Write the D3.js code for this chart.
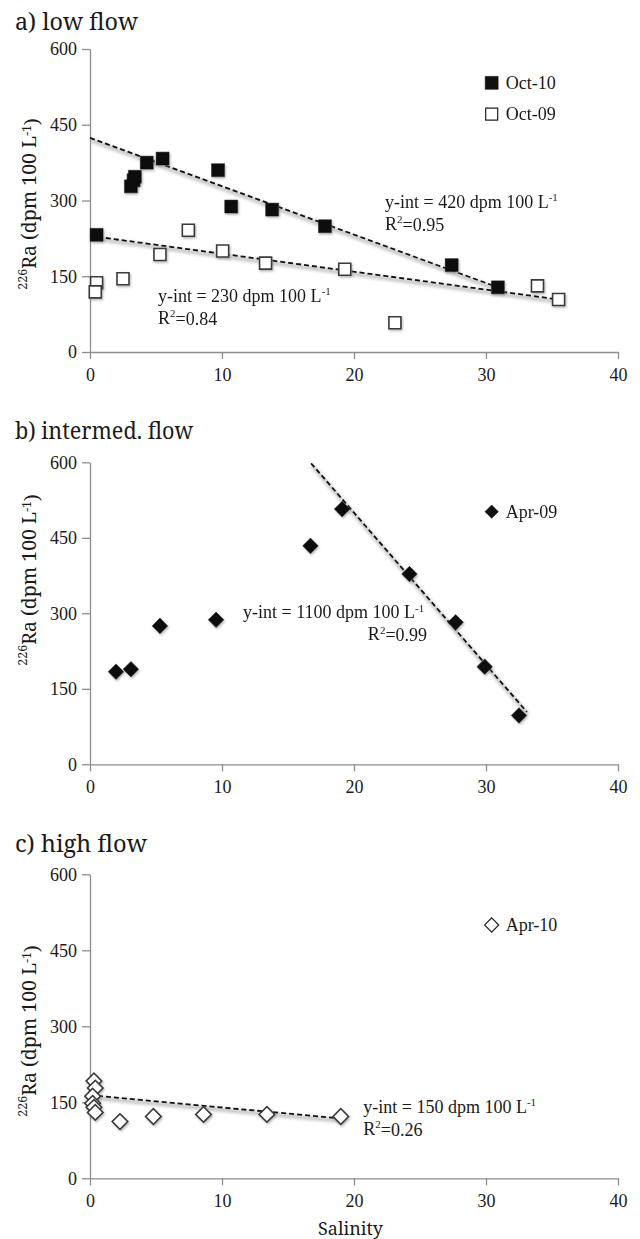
<!DOCTYPE html>
<html><head><meta charset="utf-8">
<script src="https://cdn.jsdelivr.net/npm/d3@7"></script>
<style>
html,body{margin:0;padding:0;background:#fff;}
</style></head>
<body><svg id="chart" width="640" height="1239"></svg>
<script>
// ---------- data ----------
const xTicks = [0, 10, 20, 30, 40];
const yTicks = [0, 150, 300, 450, 600];
const panelTitles = ["a) low flow", "b) intermed. flow", "c) high flow"];

// a) low flow
const salOct10 = [0.5, 3.1, 3.3, 3.4, 4.3, 5.5, 9.7, 10.7, 13.8, 17.8, 27.4, 30.9];
const raOct10  = [232, 328, 340, 347, 375, 383, 360, 288, 282, 249, 172, 128];
const salOct09 = [0.5, 0.4, 2.5, 5.3, 7.45, 10.05, 13.3, 19.3, 23.1, 33.9, 35.5];
const raOct09  = [137, 119, 145, 193, 241, 200, 176, 164, 58, 131, 104];
const trendOct10Sal = [0, 30.9], trendOct10Ra = [424, 128];
const trendOct09Sal = [0, 35.5], trendOct09Ra = [230, 104];

// b) intermediate flow
const salApr09 = [1.97, 3.1, 5.3, 9.55, 16.7, 19.1, 24.2, 27.7, 29.9, 32.5];
const raApr09  = [184, 189, 275, 287, 434, 507, 378, 282, 194, 97];
const trendApr09Sal = [16.75, 33.1], trendApr09Ra = [598, 104];

// c) high flow
const salApr10 = [0.3, 0.4, 0.2, 0.2, 0.3, 0.4, 2.27, 4.8, 8.6, 13.4, 19.0];
const raApr10  = [192, 178, 162, 148, 140, 130, 112, 122, 126, 126, 122];
const trendApr10Sal = [0, 19.0], trendApr10Ra = [164, 118];

// ---------- layout ----------
const FONT = "'Liberation Serif','Times New Roman',serif";   // small text
const BIG = "'Noto Serif','DejaVu Serif',serif";              // large text (serif at every size)
const svg = d3.select("#chart").attr("font-family", FONT);
const xLeft = 90, xRight = 618;
const panels = [
  {top: 49, bottom: 352, titleY: 30, titleW: 123, labelC: 204},
  {top: 462.3, bottom: 764.3, titleY: 439, titleW: 178, labelC: 580},
  {top: 874.3, bottom: 1178.3, titleY: 852, titleW: 132, labelC: 1031}
];
const x = d3.scaleLinear().domain([0, 40]).range([xLeft, xRight]);

const defs = svg.append("defs");
const f1 = defs.append("filter").attr("id","msh").attr("x","-50%").attr("y","-50%").attr("width","200%").attr("height","200%");
f1.append("feDropShadow").attr("dx",1).attr("dy",1.5).attr("stdDeviation",1.1).attr("flood-color","#777").attr("flood-opacity",0.55);
const f2 = defs.append("filter").attr("id","lbl").attr("x","-10%").attr("y","-50%").attr("width","120%").attr("height","200%");
f2.append("feGaussianBlur").attr("stdDeviation",1.4);

function txt(parent, tx, ty, size, fam){
  return parent.append("text").attr("x",tx).attr("y",ty).attr("font-size", size)
    .attr("font-family", fam || FONT).attr("fill","#1a1a1a");
}
function axisStyle(g){
  g.attr("font-family", FONT);
  g.select(".domain").attr("stroke","#8e8e8e").attr("stroke-width",1.3);
  g.selectAll(".tick line").attr("stroke","#8e8e8e").attr("stroke-width",1.3);
  g.selectAll(".tick text").attr("font-size",18).attr("fill","#1a1a1a").attr("font-family", FONT);
}

const yScales = panels.map(p => d3.scaleLinear().domain([0, 600]).range([p.bottom, p.top]));

panels.forEach((p, i) => {
  const y = yScales[i];
  const g = svg.append("g");
  txt(g, 15, p.titleY, 24, BIG).attr("textLength", p.titleW).attr("lengthAdjust","spacingAndGlyphs").text(panelTitles[i]);

  g.append("g").attr("transform", `translate(${xLeft},0)`)
    .call(d3.axisLeft(y).tickValues(yTicks).tickSize(8).tickSizeOuter(0).tickPadding(5))
    .call(axisStyle);
  g.append("g").attr("transform", `translate(0,${p.bottom})`)
    .call(d3.axisBottom(x).tickValues(xTicks).tickSize(7).tickSizeOuter(0).tickPadding(9))
    .call(axisStyle);

  const lab = txt(g, 0, 0, 19.5, BIG).attr("text-anchor", "middle");
  lab.append("tspan").attr("font-size", 12.5).attr("dy", "-0.45em").text("226");
  lab.append("tspan").attr("dy", "0.45em").text("Ra (dpm 100 L");
  lab.append("tspan").attr("font-size", 12.5).attr("dy", "-0.45em").text("-1");
  lab.append("tspan").attr("dy", "0.45em").text(")");
  const len = lab.node().getComputedTextLength() || 178;
  const k = Math.min(1, 178 / len);
  lab.attr("transform", `translate(33,${p.labelC}) rotate(-90) scale(${k},1)`);
});

txt(svg, 350.5, 1235, 18.5, BIG).attr("text-anchor","middle").attr("textLength", 65).attr("lengthAdjust","spacingAndGlyphs").text("Salinity");

// ---------- helpers ----------
function trend(yS, sx, sy){
  const pts = sx.map((v,k)=>[x(v), yS(sy[k])]);
  const line = d3.line();
  svg.append("path").attr("d", line(pts)).attr("fill","none").attr("stroke","#9a9a9a")
    .attr("stroke-width",4).attr("opacity",0.55).attr("transform","translate(1,2.5)").attr("filter","url(#lbl)");
  svg.append("path").attr("d", line(pts)).attr("fill","none").attr("stroke","#111")
    .attr("stroke-width",1.8).attr("stroke-dasharray","5,3");
}
const sq = (s)=>d3.symbol().type(d3.symbolSquare).size(s*s)();
function markers(yS, sx, sy, kind){
  const data = sx.map((v,k)=>[v, sy[k]]);
  const gg = svg.append("g").attr("filter","url(#msh)");
  gg.selectAll("path").data(data).join("path")
    .attr("transform", d => `translate(${x(d[0])},${yS(d[1])})` + (kind.includes("diamond") ? " rotate(45)" : ""))
    .attr("d", kind.includes("diamond") ? sq(11) : sq(kind==="fsq"?13:12))
    .attr("fill", kind.startsWith("f") ? "#111" : "#fff")
    .attr("stroke", kind.startsWith("f") ? "#111" : "#3a3a3a")
    .attr("stroke-width", kind.startsWith("f") ? 0.5 : 1.6);
}
function legendItem(yS, sx, sv, kind, label){
  const cx = x(sx), cy = yS(sv);
  svg.append("path").attr("transform", `translate(${cx},${cy})` + (kind.includes("diamond") ? " rotate(45)" : ""))
    .attr("d", kind.includes("diamond") ? sq(kind==="fdiamond"?9.5:10) : sq(kind==="fsq"?13:12))
    .attr("fill", kind.startsWith("f") ? "#111" : "#fff")
    .attr("stroke", kind.startsWith("f") ? "#111" : "#222")
    .attr("stroke-width", kind.startsWith("f") ? 0.5 : 1.2);
  txt(svg, cx + 14, cy + 6, 18).text(label);
}
function annot(yS, sx, sv, yint, r2, r2sx){
  const t = txt(svg, x(sx), yS(sv), 18);
  t.append("tspan").text(`y-int = ${yint} dpm 100 L`);
  t.append("tspan").attr("font-size",11).attr("dy","-0.6em").text("-1");
  const r = txt(svg, x(r2sx===undefined?sx:r2sx), yS(sv)+22, 18);
  r.append("tspan").text("R");
  r.append("tspan").attr("font-size",11).attr("dy","-0.6em").text("2");
  r.append("tspan").attr("dy","0.42em").text("=" + r2);
}

// ---------- panel a ----------
trend(yScales[0], trendOct10Sal, trendOct10Ra);
trend(yScales[0], trendOct09Sal, trendOct09Ra);
markers(yScales[0], salOct09, raOct09, "osq");
markers(yScales[0], salOct10, raOct10, "fsq");
legendItem(yScales[0], 30.43, 533, "fsq", "Oct-10");
legendItem(yScales[0], 30.43, 471, "osq", "Oct-09");
annot(yScales[0], 22.35, 285, 420, "0.95");
annot(yScales[0], 5.15, 99, 230, "0.84");

// ---------- panel b ----------
trend(yScales[1], trendApr09Sal, trendApr09Ra);
markers(yScales[1], salApr09, raApr09, "fdiamond");
legendItem(yScales[1], 30.43, 502, "fdiamond", "Apr-09");
annot(yScales[1], 11.6, 290, 1100, "0.99", 21.05);

// ---------- panel c ----------
trend(yScales[2], trendApr10Sal, trendApr10Ra);
markers(yScales[2], salApr10, raApr10, "odiamond");
legendItem(yScales[2], 30.43, 500, "odiamond", "Apr-10");
annot(yScales[2], 20.7, 129, 150, "0.26");
</script></body></html>
